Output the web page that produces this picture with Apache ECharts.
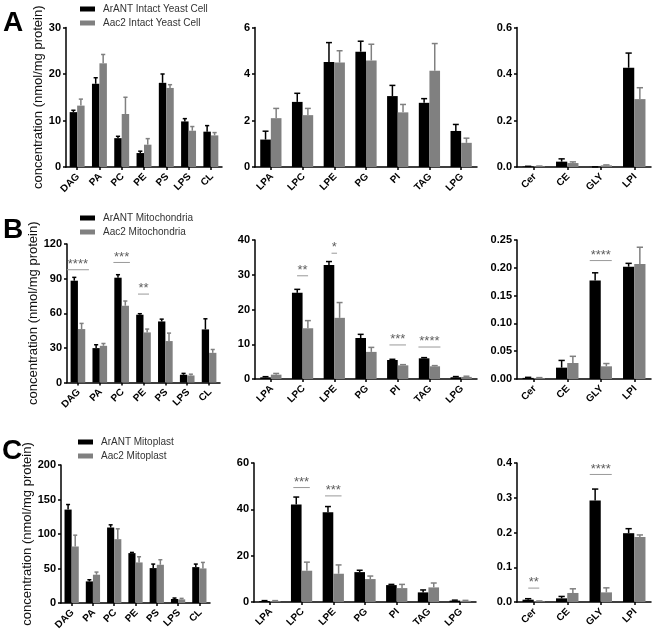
<!DOCTYPE html>
<html><head><meta charset="utf-8">
<script src="https://cdn.jsdelivr.net/npm/echarts/dist/echarts.min.js"></script>
<style>html,body{margin:0;padding:0;background:#fff}#c{width:660px;height:636px}</style>
</head><body><div id="c"></div>
<script>
// ---- categories ----
const catsMajor = ['DAG','PA','PC','PE','PS','LPS','CL'];
const catsMinor = ['LPA','LPC','LPE','PG','PI','TAG','LPG'];
const catsTrace = ['Cer','CE','GLY','LPI'];

// ---- legend names ----
const namesA = ['ArANT Intact Yeast Cell','Aac2 Intact Yeast Cell'];
const namesB = ['ArANT Mitochondria','Aac2 Mitochondria'];
const namesC = ['ArANT Mitoplast','Aac2 Mitoplast'];
const yTitle = 'concentration (nmol/mg protein)';

// ---- A: intact yeast cell ----
const A1_arant = [11.8, 17.9, 6.2, 3.0, 18.1, 9.8, 7.6];
const A1_arant_sd = [0.4, 1.3, 0.4, 0.4, 1.9, 0.6, 1.3];
const A1_aac2 = [13.2, 22.3, 11.4, 4.8, 17.0, 7.8, 6.8];
const A1_aac2_sd = [1.4, 1.9, 3.6, 1.3, 0.7, 0.9, 0.6];
const A2_arant = [1.18, 2.8, 4.52, 4.96, 3.05, 2.76, 1.55];
const A2_arant_sd = [0.36, 0.37, 0.83, 0.45, 0.46, 0.18, 0.28];
const A2_aac2 = [2.1, 2.23, 4.49, 4.58, 2.35, 4.14, 1.04];
const A2_aac2_sd = [0.42, 0.29, 0.51, 0.7, 0.34, 1.17, 0.2];
const A3_arant = [0.002, 0.023, 0.0005, 0.427];
const A3_arant_sd = [0.001, 0.012, 0, 0.063];
const A3_aac2 = [0.003, 0.017, 0.007, 0.292];
const A3_aac2_sd = [0.001, 0.005, 0.002, 0.049];

// ---- B: mitochondria ----
const B1_arant = [88.2, 29.8, 90.8, 58.7, 52.9, 6.7, 46.0];
const B1_arant_sd = [2.9, 2.9, 2.6, 0.9, 2.0, 1.2, 9.2];
const B1_aac2 = [46.3, 31.8, 66.5, 43.4, 35.9, 6.1, 25.7];
const B1_aac2_sd = [4.9, 2.0, 4.1, 2.9, 6.9, 1.1, 2.9];
const B1_sig = [[0, 97.7, 4], [2, 104, 3], [3, 76.6, 2]];
const B2_arant = [0.48, 24.8, 32.8, 11.8, 5.47, 5.95, 0.5];
const B2_arant_sd = [0.19, 1.0, 1.0, 1.05, 0.2, 0.2, 0.2];
const B2_aac2 = [1.25, 14.6, 17.6, 7.8, 3.93, 3.65, 0.6];
const B2_aac2_sd = [0.35, 2.2, 4.4, 1.3, 0.2, 0.2, 0.2];
const B2_sig = [[1, 29.7, 2], [2, 36.2, 1], [4, 9.8, 3], [5, 9.2, 4]];
const B3_arant = [0.002, 0.0204, 0.177, 0.202];
const B3_arant_sd = [0.001, 0.013, 0.014, 0.006];
const B3_aac2 = [0.0015, 0.0288, 0.0228, 0.207];
const B3_aac2_sd = [0.001, 0.012, 0.005, 0.03];
const B3_sig = [[2, 0.213, 4]];

// ---- C: mitoplast ----
const C1_arant = [135.4, 31.3, 109.4, 72.3, 50.6, 5.8, 52.0];
const C1_arant_sd = [7.3, 2.4, 3.9, 1.0, 5.8, 1.4, 4.4];
const C1_aac2 = [81.9, 41.0, 92.5, 58.8, 55.4, 5.3, 50.1];
const C1_aac2_sd = [16.4, 3.8, 15.0, 8.2, 7.3, 1.4, 8.7];
const C2_arant = [0.4, 42.1, 38.7, 12.9, 7.3, 4.15, 0.6];
const C2_arant_sd = [0.2, 3.2, 2.5, 0.8, 0.3, 1.05, 0.2];
const C2_aac2 = [0.4, 13.5, 12.2, 9.9, 6.0, 6.3, 0.5];
const C2_aac2_sd = [0.2, 3.7, 3.8, 1.3, 1.6, 1.9, 0.2];
const C2_sig = [[1, 49.4, 3], [2, 45.8, 3]];
const C3_arant = [0.0067, 0.0105, 0.292, 0.198];
const C3_arant_sd = [0.0028, 0.0055, 0.033, 0.013];
const C3_aac2 = [0.002, 0.026, 0.0277, 0.187];
const C3_aac2_sd = [0.001, 0.012, 0.013, 0.006];
const C3_sig = [[0, 0.04, 2], [2, 0.367, 4]];

// ---- y axis ranges ----
const yMax = [30, 6, 0.6, 120, 40, 0.25, 200, 60, 0.4];
const yStep = [10, 2, 0.2, 30, 10, 0.05, 50, 20, 0.1];
const yDec = [0, 0, 1, 0, 0, 2, 0, 0, 1];

// ---- build ----
const BLACK = '#000000', GRAY = '#808080';
const FONT = 'Arial, "Liberation Sans", Helvetica, sans-serif';
const panels = [
  {g:{left:66, top:27.5, width:156, height:139.5}, cats:catsMajor, a:A1_arant, as:A1_arant_sd, b:A1_aac2, bs:A1_aac2_sd, sig:[], names:namesA, title:true},
  {g:{left:255, top:27.5, width:222, height:139.5}, cats:catsMinor, a:A2_arant, as:A2_arant_sd, b:A2_aac2, bs:A2_aac2_sd, sig:[], names:namesA},
  {g:{left:517, top:27.5, width:134, height:139.5}, cats:catsTrace, a:A3_arant, as:A3_arant_sd, b:A3_aac2, bs:A3_aac2_sd, sig:[], names:namesA},
  {g:{left:67, top:244, width:153, height:138.5}, cats:catsMajor, a:B1_arant, as:B1_arant_sd, b:B1_aac2, bs:B1_aac2_sd, sig:B1_sig, names:namesB, title:true},
  {g:{left:255, top:240, width:222, height:139}, cats:catsMinor, a:B2_arant, as:B2_arant_sd, b:B2_aac2, bs:B2_aac2_sd, sig:B2_sig, names:namesB},
  {g:{left:517, top:240, width:134, height:139}, cats:catsTrace, a:B3_arant, as:B3_arant_sd, b:B3_aac2, bs:B3_aac2_sd, sig:B3_sig, names:namesB},
  {g:{left:61, top:465, width:149, height:138}, cats:catsMajor, a:C1_arant, as:C1_arant_sd, b:C1_aac2, bs:C1_aac2_sd, sig:[], names:namesC, title:true},
  {g:{left:254, top:463, width:222, height:139}, cats:catsMinor, a:C2_arant, as:C2_arant_sd, b:C2_aac2, bs:C2_aac2_sd, sig:C2_sig, names:namesC},
  {g:{left:517, top:463, width:134, height:139}, cats:catsTrace, a:C3_arant, as:C3_arant_sd, b:C3_aac2, bs:C3_aac2_sd, sig:C3_sig, names:namesC}
];

const GAP = 0.33;
function errRender(sign, color) {
  return function (params, api) {
    const idx = api.value(0);
    const p0 = api.coord([idx, api.value(1)]);
    const p1 = api.coord([idx, api.value(2)]);
    const band = api.size([1, 0])[0];
    const bw = band * (1 - GAP) / 2;
    const x = p0[0] + sign * bw / 2;
    const cap = bw * 0.28;
    return {type:'group', children:[
      {type:'line', shape:{x1:x, y1:p0[1], x2:x, y2:p1[1]}, style:{stroke:color, lineWidth:1.5}},
      {type:'line', shape:{x1:x-cap, y1:p1[1], x2:x+cap, y2:p1[1]}, style:{stroke:color, lineWidth:1.5}}
    ]};
  };
}
function sigLineRender(params, api) {
  const idx = api.value(0);
  const n = api.value(2);
  const p = api.coord([idx, api.value(1)]);
  const half = n * 2.75;
  return {type:'line', shape:{x1:p[0]-half, y1:p[1], x2:p[0]+half, y2:p[1]}, style:{stroke:'#999', lineWidth:1}};
}
// category labels, slanted 45 degrees, placed at each category centre on the x axis
function catLabelRender(cats) {
  return function (params, api) {
    const p = api.coord([api.value(0), 0]);
    return {type:'text', x:p[0] + 1, y:p[1] + 8, rotation:Math.PI / 4,
      style:{text:cats[params.dataIndex], align:'right', verticalAlign:'middle',
        font:'bold 10px ' + FONT, fill:'#000'}};
  };
}

const grid = [], xAxis = [], yAxis = [], series = [];
panels.forEach((p, i) => {
  grid.push(Object.assign({outerBoundsMode:'none', containLabel:false}, p.g));
  xAxis.push({
    gridIndex:i, type:'category', data:p.cats,
    axisLine:{show:true, onZero:false, lineStyle:{color:'#000', width:1.5}},
    axisTick:{show:true, alignWithLabel:true, interval:0, length:3, lineStyle:{color:'#000', width:1.5}},
    axisLabel:{show:false, interval:0},
    splitLine:{show:false}
  });
  const dec = yDec[i];
  yAxis.push({
    gridIndex:i, type:'value', min:0, max:yMax[i], interval:yStep[i],
    axisLine:{show:true, lineStyle:{color:'#000', width:1.5}},
    axisTick:{show:true, length:3, lineStyle:{color:'#000', width:1.5}},
    axisLabel:{fontSize:11, fontWeight:'bold', color:'#000', margin:5, fontFamily:FONT, showMinLabel:true, showMaxLabel:true,
      formatter: v => Number(v).toFixed(dec)},
    splitLine:{show:false},
    name: p.title ? yTitle : '', nameLocation:'middle', nameGap:17,
    nameTextStyle:{fontSize:13, color:'#111', fontFamily:FONT}
  });
  series.push({name:p.names[0], type:'bar', xAxisIndex:i, yAxisIndex:i, data:p.a,
    itemStyle:{color:BLACK}, barGap:'0%', barCategoryGap:(GAP*100)+'%', emphasis:{disabled:true}});
  series.push({name:p.names[1], type:'bar', xAxisIndex:i, yAxisIndex:i, data:p.b,
    itemStyle:{color:GRAY}, barGap:'0%', barCategoryGap:(GAP*100)+'%', emphasis:{disabled:true}});
  series.push({name:'err-a-'+i, type:'custom', xAxisIndex:i, yAxisIndex:i, z:5,
    data:p.a.map((v, j) => [j, v, v + p.as[j]]), encode:{x:0, y:1}, renderItem:errRender(-1, BLACK)});
  series.push({name:'err-b-'+i, type:'custom', xAxisIndex:i, yAxisIndex:i, z:5,
    data:p.b.map((v, j) => [j, v, v + p.bs[j]]), encode:{x:0, y:1}, renderItem:errRender(1, GRAY)});
  series.push({name:'cat-'+i, type:'custom', xAxisIndex:i, yAxisIndex:i, z:5, silent:true, clip:false,
    data:p.cats.map((c, j) => [j, 0]), encode:{x:0, y:1}, renderItem:catLabelRender(p.cats)});
  if (p.sig.length) {
    series.push({name:'sigline-'+i, type:'custom', xAxisIndex:i, yAxisIndex:i, z:6,
      data:p.sig, encode:{x:0, y:1}, renderItem:sigLineRender});
    series.push({name:'sigstar-'+i, type:'scatter', xAxisIndex:i, yAxisIndex:i, z:6,
      data:p.sig, symbolSize:0.01, itemStyle:{color:'rgba(0,0,0,0)'}, silent:true,
      label:{show:true, position:'top', distance:-1, fontSize:13, color:'#333', fontFamily:FONT,
        formatter: d => '*'.repeat(d.value[2])}});
  }
});

const legendBase = {orient:'vertical', icon:'rect', itemWidth:15, itemHeight:5, itemGap:4,
  textStyle:{fontSize:10, color:'#333', fontFamily:FONT, padding:[0,0,0,3]}, selectedMode:false};
const legend = [
  Object.assign({left:75, top:-1, data:namesA}, legendBase),
  Object.assign({left:75, top:208, data:namesB}, legendBase),
  Object.assign({left:73, top:432, data:namesC}, legendBase)
];

const letter = (t, x, y) => ({type:'text', left:x, top:y, style:{text:t, font:'bold 28px ' + FONT, fill:'#000'}});
const chart = echarts.init(document.getElementById('c'), null, {renderer:'canvas'});
chart.setOption({
  animation:false,
  backgroundColor:'#fff',
  grid, xAxis, yAxis, series, legend,
  graphic:[letter('A', 3, 9), letter('B', 3, 216), letter('C', 2, 437)]
});
</script></body></html>
